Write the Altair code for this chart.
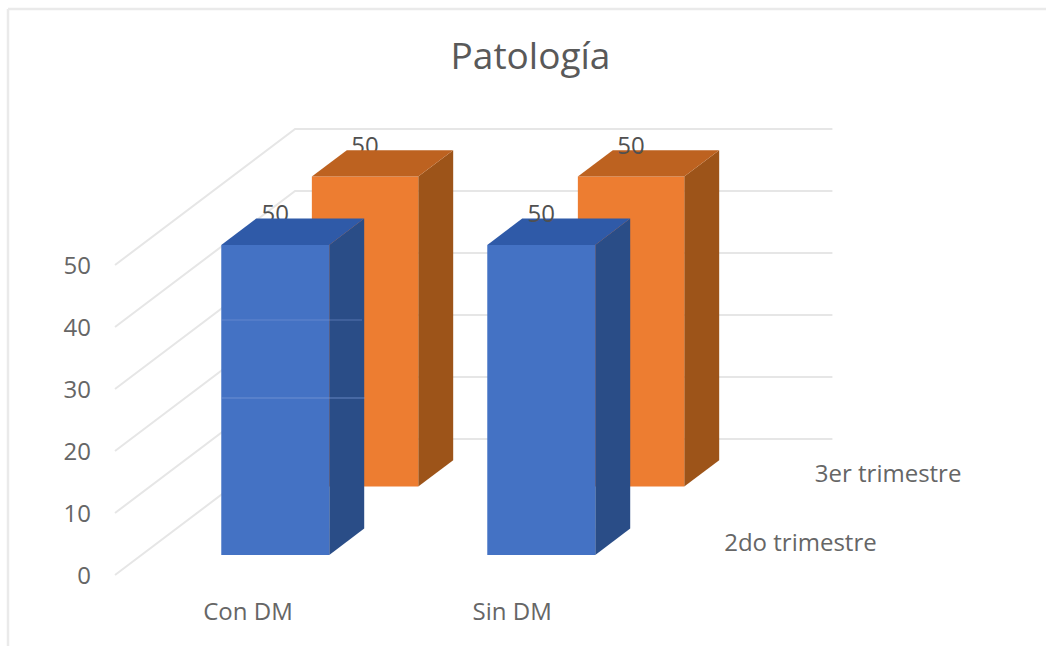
import altair as alt
import pandas as pd

# Chart values
categories = ["Con DM", "Sin DM"]
series = ["3er trimestre", "2do trimestre"]      # back row first
values = {"3er trimestre": [50, 50], "2do trimestre": [50, 50]}
y_ticks = [0, 10, 20, 30, 40, 50]

# Oblique projection of (category, depth, value) on the flat drawing plane.
DEPTH_U = 0.677      # category units gained across the full depth
DEPTH_W = 21.94      # value units gained across the full depth
BAR_W = {"3er trimestre": 0.4, "2do trimestre": 0.406}
BAR_D = 0.194
ROW_START = {"2do trimestre": 0.147, "3er trimestre": 0.65}
CAT_START = -0.3
CAT_SPAN = 2.02

FILLS = {
    "3er trimestre": dict(front="#ed7d31", side="#9d5419", top="#bd6220"),
    "2do trimestre": dict(front="#4472c4", side="#2a4d87", top="#2f5aa8"),
}
FONT = "Open Sans"
TEXT_SIZE = 24


def project(c, d, v):
    return c + DEPTH_U * d, v + DEPTH_W * d


x_scale = alt.Scale(domain=[CAT_START, CAT_START + 717 / 266], nice=False, zero=False)
y_scale = alt.Scale(domain=[0, 447 / 6.2], nice=False, zero=False)
X = alt.X("u:Q", scale=x_scale, axis=None)
Y = alt.Y("w:Q", scale=y_scale, axis=None)

# Walls: one polyline per gridline, front of side wall -> back corner -> end of back wall
grid_rows = []
for tick in y_ticks:
    for order, (c, d) in enumerate([(CAT_START, 0), (CAT_START, 1), (CAT_START + CAT_SPAN, 1)]):
        u, w = project(c, d, tick)
        grid_rows.append(dict(tick=tick, order=order, u=u, w=w))
grid = alt.Chart(pd.DataFrame(grid_rows)).mark_line(color="#e6e6e6", strokeWidth=2).encode(
    x=X, y=Y, detail="tick:N", order="order:Q"
)

# Value axis labels on the front edge of the side wall
axis_layer = alt.Chart(pd.DataFrame({"w": y_ticks, "u": [CAT_START] * len(y_ticks)})).mark_text(
    align="right", baseline="middle", dx=-24, dy=2, fontSize=TEXT_SIZE, font=FONT, color="#666666"
).encode(x=X, y=Y, text=alt.Text("w:Q"))


def bar_layers(name):
    """Side, top and front faces of every bar in one depth row."""
    fills = FILLS[name]
    d0 = ROW_START[name]
    d1 = d0 + BAR_D
    side, top, front = [], [], []
    for i, (cat, val) in enumerate(zip(categories, values[name])):
        left, right = i, i + BAR_W[name]
        for d in (d0, d1):
            u, w_low = project(right, d, 0)
            w_high = project(right, d, val)[1]
            side.append(dict(bar=cat, u=u, w=w_low, w2=w_high))
            ul = project(left, d, val)[0]
            top.append(dict(bar=cat, u=ul, u2=u, w=w_high))
        ul, wl = project(left, d0, 0)
        ur, wh = project(right, d0, val)
        front.append(dict(bar=cat, u=ul, u2=ur, w=wl, w2=wh))
    return [
        alt.Chart(pd.DataFrame(side)).mark_area(color=fills["side"], orient="vertical").encode(
            x=X, y=Y, y2="w2:Q", detail="bar:N"
        ),
        alt.Chart(pd.DataFrame(front)).mark_rect(color=fills["front"]).encode(
            x=X, x2="u2:Q", y=Y, y2="w2:Q"
        ),
        alt.Chart(pd.DataFrame(top)).mark_area(color=fills["top"], orient="horizontal").encode(
            y=Y, x=X, x2="u2:Q", detail="bar:N"
        ),
    ]


def value_labels(name, indices):
    rows = []
    for i in indices:
        u, w = project(i + BAR_W[name] / 2, ROW_START[name], values[name][i])
        rows.append(dict(u=u, w=w, label=values[name][i]))
    return alt.Chart(pd.DataFrame(rows)).mark_text(
        dy=-30, fontSize=TEXT_SIZE, font=FONT, color="#505050", baseline="middle"
    ).encode(x=X, y=Y, text="label:Q")


# Category names below the floor
cat_labels = alt.Chart(
    pd.DataFrame({"u": [0.2, 1.193], "w": [-6.0, -6.0], "name": categories})
).mark_text(fontSize=TEXT_SIZE, font=FONT, color="#666666", baseline="middle", dy=1).encode(
    x=X, y=Y, text="name:N"
)

# Row names on the floor, to the right of the bars
row_rows = []
for name in series:
    u, w = project(1.825, ROW_START[name] + BAR_D / 2, 0)
    row_rows.append(dict(u=u, w=w, name=name))
row_labels = alt.Chart(pd.DataFrame(row_rows)).mark_text(
    align="left", fontSize=TEXT_SIZE, font=FONT, color="#666666", baseline="middle", dy=2
).encode(x=X, y=Y, text="name:N")

# Thin outline of the chart object along its top and left edges
frame_left = alt.Chart(pd.DataFrame({"a": [0]})).mark_rule(color="#eaeaea", strokeWidth=2.5).encode(
    x=alt.value(-107), y=alt.value(-119), y2=alt.value(518)
)
frame_top = alt.Chart(pd.DataFrame({"a": [0]})).mark_rule(color="#eaeaea", strokeWidth=2.5).encode(
    x=alt.value(-107), x2=alt.value(931), y=alt.value(-119)
)

# Faint seams across the first front bar
seam_low = alt.Chart(pd.DataFrame({"a": [0]})).mark_rule(color="#7f9cd8", strokeWidth=1, opacity=0.7).encode(
    x=alt.value(106), x2=alt.value(250), y=alt.value(270)
)
seam_high = alt.Chart(pd.DataFrame({"a": [0]})).mark_rule(color="#7f9cd8", strokeWidth=1, opacity=0.5).encode(
    x=alt.value(106), x2=alt.value(247), y=alt.value(192)
)

layers = [frame_left, frame_top, grid, axis_layer]
layers += [value_labels("3er trimestre", [0])]
layers += bar_layers("3er trimestre")
layers += [value_labels("2do trimestre", [0])]
layers += bar_layers("2do trimestre")
layers += [seam_low, seam_high]
layers += [value_labels("3er trimestre", [1]), value_labels("2do trimestre", [1])]
layers += [cat_labels, row_labels]

chart = (
    alt.layer(*layers)
    .properties(
        width=717,
        height=447,
        padding={"left": 115, "top": 128, "right": 214, "bottom": 71},
        autosize=alt.AutoSizeParams(type="none"),
        background="white",
        title=alt.TitleParams(
            "Patología", fontSize=37, font=FONT, fontWeight="normal",
            color="#595959", anchor="middle", dx=57, dy=69, offset=0,
        ),
    )
    .configure_view(stroke=None)
)

chart.save("out.html", embed_options={"renderer": "svg", "actions": False})
